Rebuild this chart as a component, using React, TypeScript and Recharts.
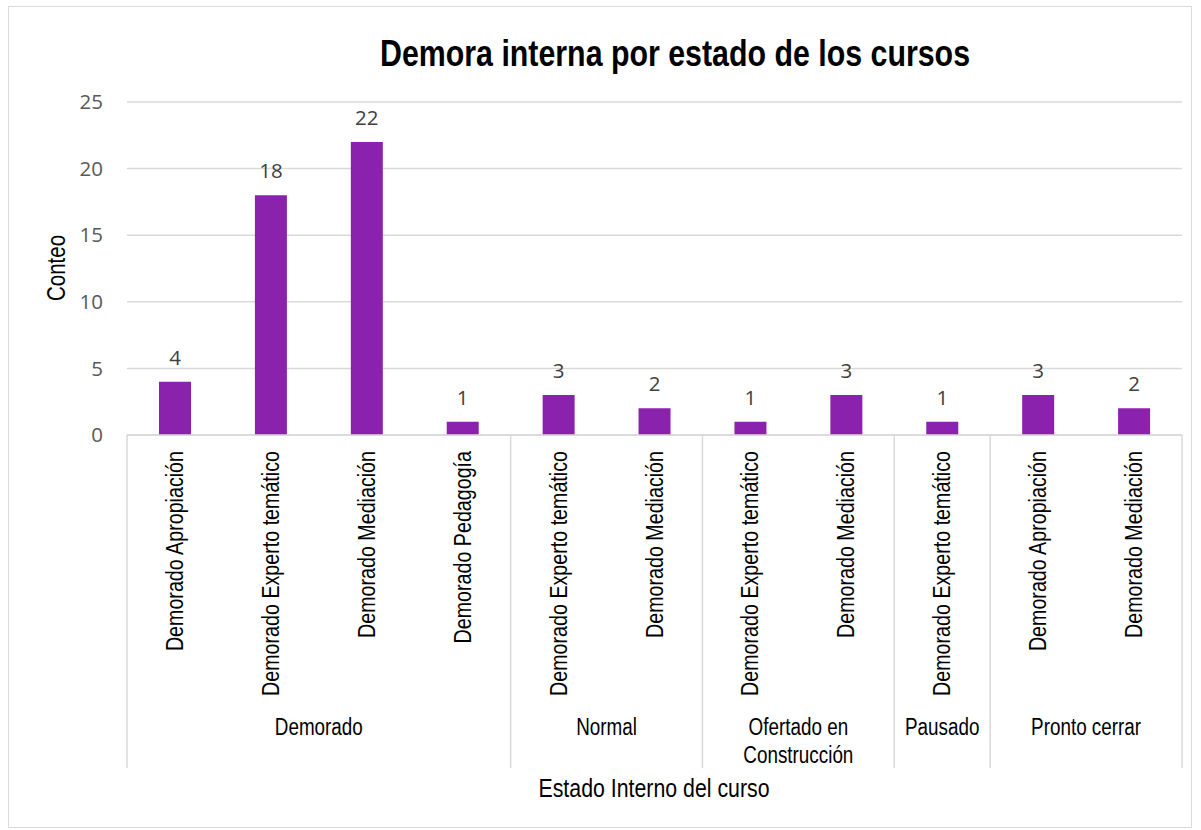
import React from "react";
import {
  BarChart,
  Bar,
  XAxis,
  YAxis,
  CartesianGrid,
  LabelList,
  Customized,
} from "recharts";

// Inner level of the category axis
const subcategories = [
  "Demorado Apropiación",
  "Demorado Experto temático",
  "Demorado Mediación",
  "Demorado Pedagogía",
  "Demorado Experto temático",
  "Demorado Mediación",
  "Demorado Experto temático",
  "Demorado Mediación",
  "Demorado Experto temático",
  "Demorado Apropiación",
  "Demorado Mediación",
];

// Outer level: group name and how many subcategories it covers
const groupNames = ["Demorado", "Normal", "Ofertado en\nConstrucción", "Pausado", "Pronto cerrar"];
const groupSizes = [4, 2, 2, 1, 2];

const counts = [4, 18, 22, 1, 3, 2, 1, 3, 1, 3, 2];

const yTicks = [0, 5, 10, 15, 20, 25];

const groupStarts = groupSizes.map((_, i) => groupSizes.slice(0, i).reduce((a, b) => a + b, 0));

const data = subcategories.map((label, i) => ({
  key: `c${i}`,
  label,
  count: counts[i],
}));

// no narrow face installed, so Liberation Sans gets squeezed horizontally
const SANS = "'Liberation Sans', Arial, sans-serif";
const SQUEEZE = 0.82;
const NUM_FONT = "'Open Sans', sans-serif";
const GRID = "#d9d9d9";

const W = 1201;
const H = 830;
const PLOT_TOP = 102;
const PLOT_LEFT = 127;
const PLOT_RIGHT = 1182;
const PLOT_BOTTOM = 435;
const SEP_BOTTOM = 768;

function Narrow({ x, y, rotate = 0, size, bold, anchor = "middle", children }: any) {
  return (
    <text
      transform={`translate(${x}, ${y}) rotate(${rotate}) scale(${SQUEEZE}, 1)`}
      textAnchor={anchor}
      fontFamily={SANS}
      fontSize={size}
      fontWeight={bold ? "bold" : "normal"}
      fill="#000"
    >
      {children}
    </text>
  );
}

function CategoryTick(props: any) {
  const { x, y, payload, index } = props;
  const half = payload && payload.offset ? payload.offset : (PLOT_RIGHT - PLOT_LEFT) / data.length / 2;
  const i = typeof index === "number" ? index : payload.index;
  const row = data[i];
  const g = groupStarts.indexOf(i);
  const isLast = i === data.length - 1;
  const gx = g >= 0 ? x - half + groupSizes[g] * half : 0;
  return (
    <g>
      <Narrow x={x + 8} y={y + 16} rotate={-90} size={24} anchor="end">
        {row ? row.label : ""}
      </Narrow>
      {g >= 0 && (
        <>
          <line x1={x - half} x2={x - half} y1={y} y2={SEP_BOTTOM} stroke={GRID} strokeWidth={1.5} />
          {groupNames[g].split("\n").map((line, k) => (
            <Narrow key={k} x={gx} y={y + 300 + k * 28} size={23}>
              {line}
            </Narrow>
          ))}
        </>
      )}
      {isLast && (
        <line x1={x + half} x2={x + half} y1={y} y2={SEP_BOTTOM} stroke={GRID} strokeWidth={1.5} />
      )}
    </g>
  );
}

function Titles() {
  return (
    <g>
      <Narrow x={675} y={66} size={37} bold>
        Demora interna por estado de los cursos
      </Narrow>
      <Narrow x={65} y={268} rotate={-90} size={25}>
        Conteo
      </Narrow>
      <Narrow x={654} y={797} size={26}>
        Estado Interno del curso
      </Narrow>
    </g>
  );
}

export default function App() {
  return (
    <div style={{ position: "fixed", left: 0, top: 0, width: W, height: H, background: "#fff" }}>
      <div
        style={{
          position: "absolute",
          left: 8,
          top: 6,
          width: 1184,
          height: 822,
          border: "1.5px solid #d9d9d9",
          boxSizing: "border-box",
        }}
      />
      <div style={{ position: "absolute", left: 0, top: 0 }}>
        <BarChart
          width={W}
          height={H}
          data={data}
          margin={{ top: PLOT_TOP, right: W - PLOT_RIGHT, bottom: 0, left: PLOT_LEFT - 60 }}
          barCategoryGap={0}
        >
          <CartesianGrid horizontal vertical={false} stroke={GRID} strokeWidth={1.5} />
          <XAxis
            dataKey="key"
            height={H - PLOT_BOTTOM}
            axisLine={{ stroke: GRID, strokeWidth: 1.5 }}
            tickLine={false}
            tickSize={0}
            tickMargin={0}
            interval={0}
            tick={<CategoryTick />}
          />
          <YAxis
            width={60}
            domain={[0, 25]}
            ticks={yTicks}
            axisLine={false}
            tickLine={false}
            tickSize={0}
            tickMargin={24}
            tick={{ fontFamily: NUM_FONT, fontSize: 20.5, fill: "#595959" }}
          />
          <Bar dataKey="count" fill="#8B22AE" barSize={32} isAnimationActive={false}>
            <LabelList
              dataKey="count"
              position="top"
              offset={17}
              style={{ fontFamily: NUM_FONT, fontSize: 20.5, fill: "#404040" }}
            />
          </Bar>
          <Customized component={Titles} />
        </BarChart>
      </div>
    </div>
  );
}
